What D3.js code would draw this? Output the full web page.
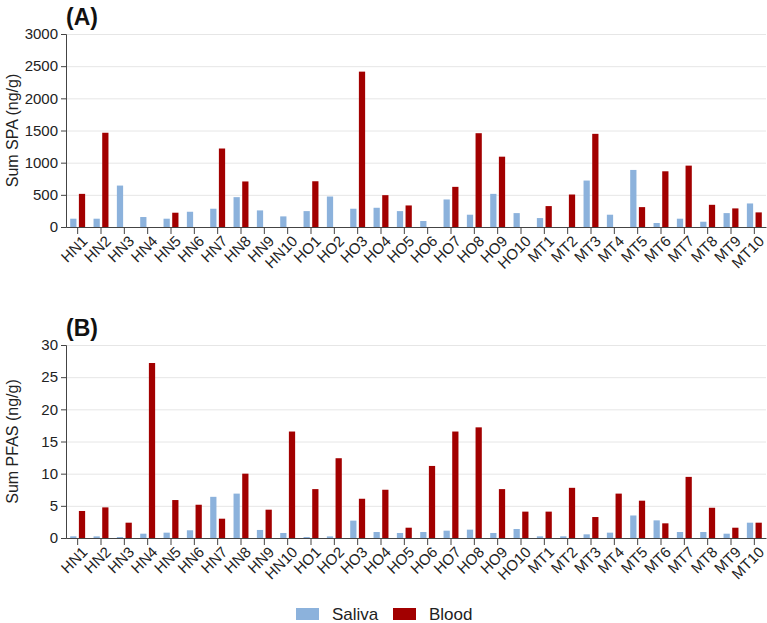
<!DOCTYPE html>
<html>
<head>
<meta charset="utf-8">
<script src="https://cdn.jsdelivr.net/npm/d3@7"></script>
<style>
  body { margin: 0; background: #fff; }
  svg { font-family: "Liberation Sans", Arial, sans-serif; }
  .grid line { stroke: #e6e6e6; }
  .grid path { display: none; }
  .axis text { fill: #222; }
  .axis path, .axis line { stroke: #444; }
</style>
</head>
<body>
<svg width="767" height="623"></svg>
<script>
  var samples = ["HN1","HN2","HN3","HN4","HN5","HN6","HN7","HN8","HN9","HN10",
                 "HO1","HO2","HO3","HO4","HO5","HO6","HO7","HO8","HO9","HO10",
                 "MT1","MT2","MT3","MT4","MT5","MT6","MT7","MT8","MT9","MT10"];
  var groups = ["Saliva", "Blood"];

  // Panel A: Sum SPA (ng/g)
  var spaSaliva = [129, 129, 644, 155, 129, 237, 284, 464, 258, 165,
                   247, 474, 284, 299, 247, 93, 428, 191, 515, 216,
                   139, 0, 722, 191, 887, 62, 129, 82, 216, 366];
  var spaBlood  = [515, 1465, 0, 0, 222, 0, 1220, 708, 0, 0,
                   711, 0, 2415, 495, 335, 0, 624, 1458, 1093, 0,
                   325, 505, 1448, 0, 309, 866, 954, 345, 289, 227];

  // Panel B: Sum PFAS (ng/g)
  var pfasSaliva = [0.26, 0.25, 0.15, 0.67, 0.83, 1.2, 6.4, 6.9, 1.25, 0.78,
                    0.15, 0.25, 2.7, 0.93, 0.78, 0.93, 1.14, 1.3, 0.78, 1.4,
                    0.26, 0.26, 0.57, 0.83, 3.5, 2.74, 0.93, 0.93, 0.67, 2.38];
  var pfasBlood  = [4.2, 4.76, 2.38, 27.2, 5.9, 5.17, 3.0, 10.0, 4.4, 16.55,
                    7.6, 12.4, 6.1, 7.5, 1.6, 11.2, 16.55, 17.2, 7.6, 4.1,
                    4.1, 7.8, 3.26, 6.9, 5.8, 2.28, 9.5, 4.7, 1.6, 2.38];

  var spaTicks = [0, 500, 1000, 1500, 2000, 2500, 3000];
  var pfasTicks = [0, 5, 10, 15, 20, 25, 30];

  var color = d3.scaleOrdinal().domain(groups).range(["#8cb2dc", "#a20000"]);

  var svg = d3.select("svg");

  var x = d3.scaleBand()
      .domain(samples)
      .range([66, 766])
      .paddingInner(0.36)
      .paddingOuter(0.18);

  var xSub = d3.scaleBand()
      .domain(groups)
      .range([0, x.bandwidth()])
      .paddingInner(0.28);

  function panel(top, bottom, saliva, blood, ticks, label, title) {
    var y = d3.scaleLinear()
        .domain([0, ticks[ticks.length - 1]])
        .range([bottom, top]);

    var g = svg.append("g");

    g.append("g")
        .attr("class", "grid")
        .attr("transform", "translate(66,0)")
        .call(d3.axisLeft(y).tickValues(ticks.slice(1)).tickSize(-700).tickFormat(""));

    var rows = samples.map(function(s, i) { return {name: s, Saliva: saliva[i], Blood: blood[i]}; });

    g.selectAll(".sample")
      .data(rows)
      .enter().append("g")
        .attr("transform", function(d) { return "translate(" + x(d.name) + ",0)"; })
      .selectAll("rect")
      .data(function(d) { return groups.map(function(k) { return {key: k, value: d[k]}; }); })
      .enter().append("rect")
        .filter(function(d) { return d.value > 0; })
        .attr("x", function(d) { return xSub(d.key); })
        .attr("y", function(d) { return y(d.value); })
        .attr("width", xSub.bandwidth())
        .attr("height", function(d) { return y(0) - y(d.value); })
        .attr("fill", function(d) { return color(d.key); });

    g.append("g")
        .attr("class", "axis")
        .attr("transform", "translate(66,0)")
        .call(d3.axisLeft(y).tickValues(ticks).tickFormat(d3.format("d")).tickSize(5).tickPadding(3))
        .attr("font-size", "15px");

    var xa = g.append("g")
        .attr("class", "axis")
        .attr("transform", "translate(0," + bottom + ")")
        .call(d3.axisBottom(x).tickSize(7).tickSizeOuter(0))
        .attr("font-size", "15px");
    xa.selectAll("text")
        .attr("text-anchor", "end")
        .attr("transform", "rotate(-45)")
        .attr("dx", "-0.2em")
        .attr("dy", "0.55em");

    g.append("text")
        .attr("transform", "translate(18," + (top + bottom) / 2 + ") rotate(-90)")
        .attr("text-anchor", "middle")
        .attr("font-size", "16px")
        .attr("fill", "#222")
        .text(label);

    g.append("text")
        .attr("x", 66)
        .attr("y", top - 9)
        .attr("font-size", "23px")
        .attr("font-weight", "bold")
        .attr("fill", "#111")
        .text(title);
  }

  panel(34, 227, spaSaliva, spaBlood, spaTicks, "Sum SPA (ng/g)", "(A)");
  panel(345, 538, pfasSaliva, pfasBlood, pfasTicks, "Sum PFAS (ng/g)", "(B)");

  // legend
  var legend = svg.append("g").attr("transform", "translate(296,608)");
  var items = legend.selectAll("g")
    .data(groups)
    .enter().append("g")
      .attr("transform", function(d, i) { return "translate(" + (i * 97) + ",0)"; });
  items.append("rect")
      .attr("width", 23)
      .attr("height", 12)
      .attr("fill", function(d) { return color(d); });
  items.append("text")
      .attr("x", 36)
      .attr("y", 12)
      .attr("font-size", "17px")
      .attr("fill", "#222")
      .text(function(d) { return d; });
</script>
</body>
</html>
